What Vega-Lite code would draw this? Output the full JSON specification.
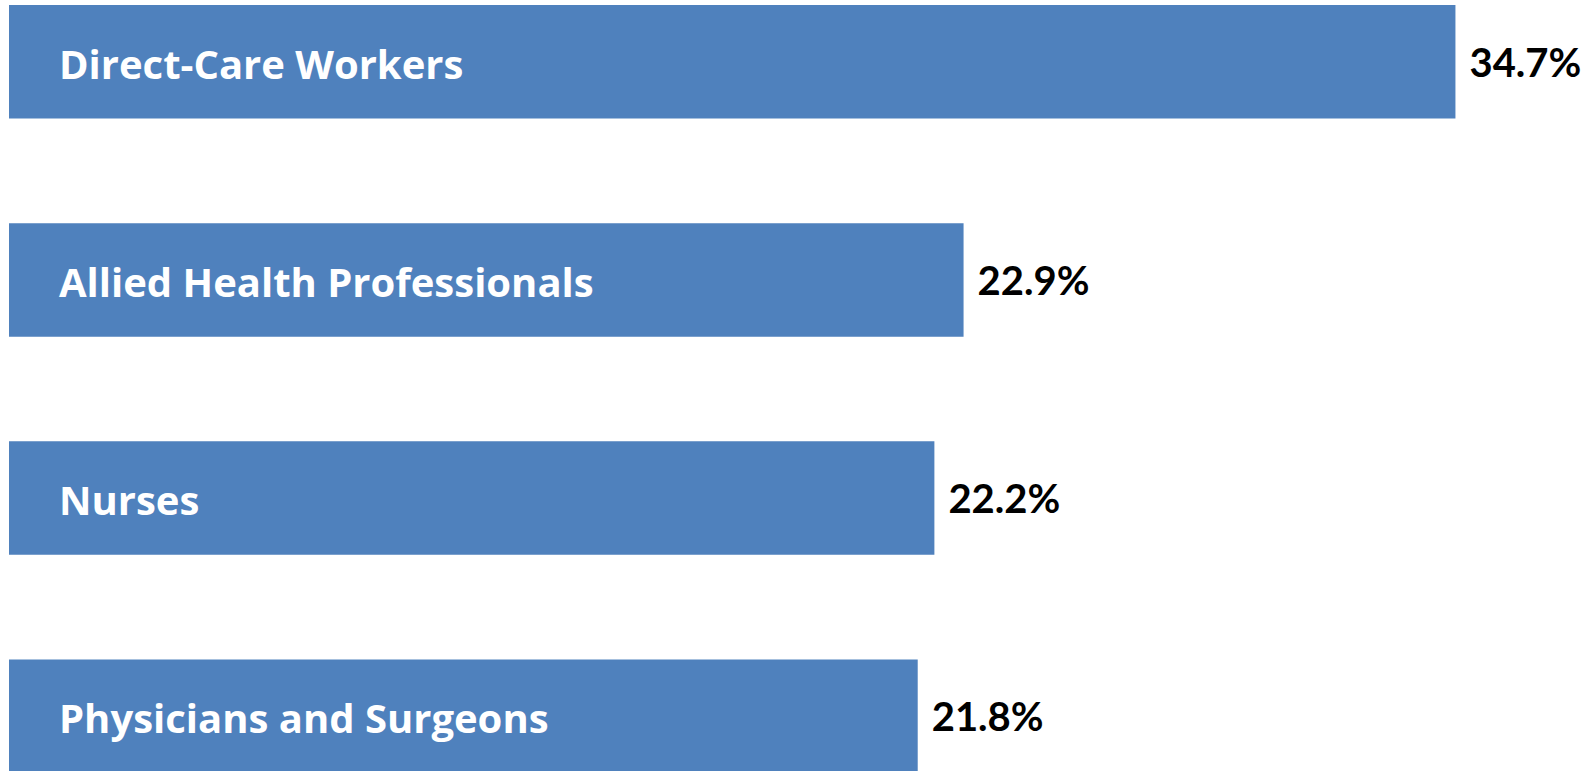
{
  "$schema": "https://vega.github.io/schema/vega-lite/v6.json",
  "autosize": {"type": "none"},
  "width": 1584,
  "height": 768,
  "padding": {"left": 9, "top": 5, "right": 0, "bottom": 0},
  "background": "white",
  "config": {"view": {"stroke": null}},
  "data": {
    "values": [
      {"category": "Direct-Care Workers", "share": 0.347},
      {"category": "Allied Health Professionals", "share": 0.229},
      {"category": "Nurses", "share": 0.222},
      {"category": "Physicians and Surgeons", "share": 0.218}
    ]
  },
  "encoding": {
    "y": {
      "field": "category",
      "type": "nominal",
      "sort": null,
      "axis": null,
      "scale": {"paddingInner": 0.48, "paddingOuter": 0}
    }
  },
  "layer": [
    {
      "mark": {"type": "bar", "color": "#4F81BD"},
      "encoding": {
        "x": {"field": "share", "type": "quantitative", "axis": null, "scale": {"domain": [0, 0.38], "nice": false}}
      }
    },
    {
      "mark": {"type": "text", "align": "left", "baseline": "middle", "dx": 50, "dy": 5, "color": "white", "font": "Open Sans", "fontWeight": "bold", "fontSize": 40},
      "encoding": {
        "x": {"datum": 0, "type": "quantitative"},
        "text": {"field": "category"}
      }
    },
    {
      "mark": {"type": "text", "align": "left", "baseline": "middle", "dx": 14, "dy": 3, "color": "black", "font": "Lato", "fontWeight": "bold", "fontSize": 40},
      "encoding": {
        "x": {"field": "share", "type": "quantitative"},
        "text": {"field": "share", "format": ".1%"}
      }
    }
  ]
}
